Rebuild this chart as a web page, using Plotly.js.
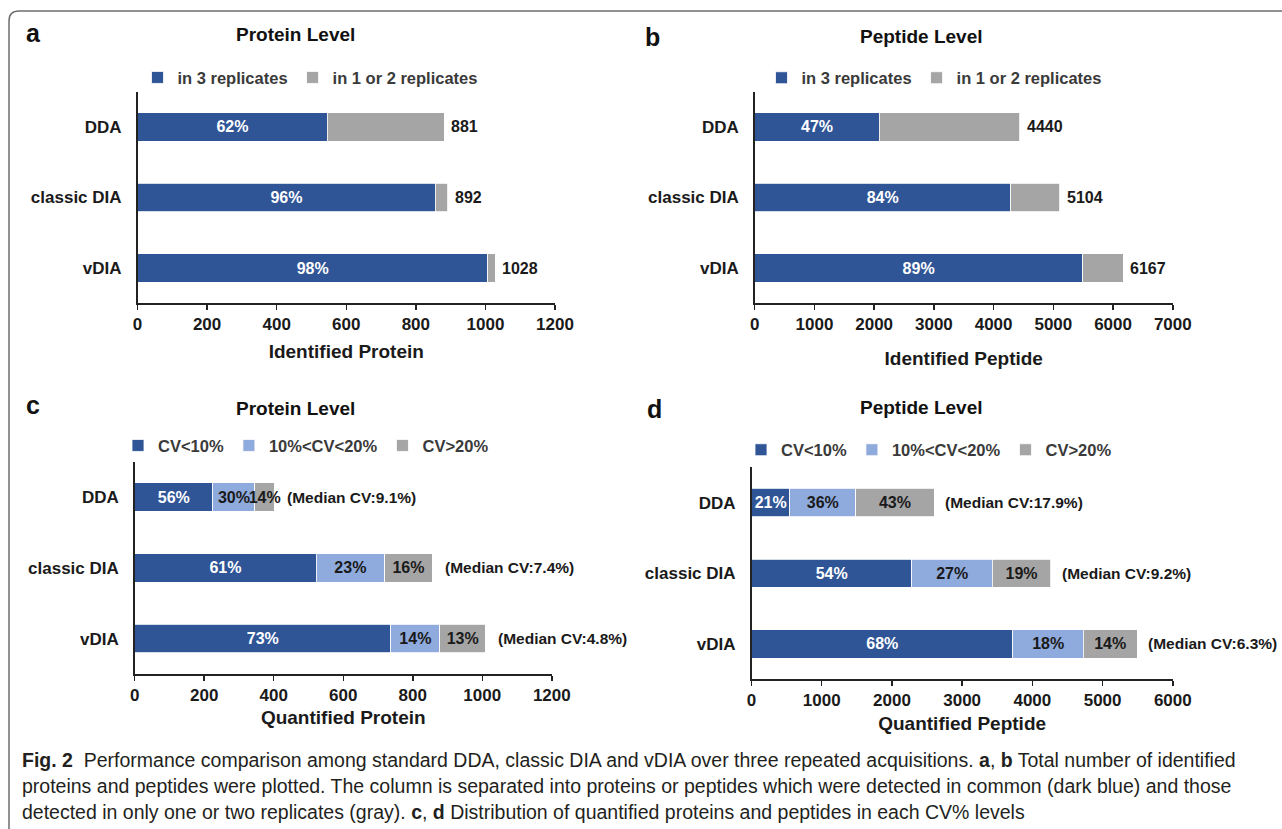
<!DOCTYPE html>
<html>
<head>
<meta charset="utf-8">
<script src="https://cdn.plot.ly/plotly-3.0.1.min.js"></script>
<style>
  html, body { margin: 0; padding: 0; background: #ffffff; }
  #chart { width: 1282px; height: 829px; }
</style>
</head>
<body>
<div id="chart"></div>
<script>
// ---------- data ----------
const methods = ['DDA', 'classic DIA', 'vDIA'];

// panel a: identified proteins
const protIdIn3 = [546, 856, 1007];
const protIdIn12 = [335, 36, 21];
const protIdPct = ['62%', '96%', '98%'];
const protIdTotalLabel = ['881', '892', '1028'];

// panel b: identified peptides
const pepIdIn3 = [2087, 4287, 5489];
const pepIdIn12 = [2353, 817, 678];
const pepIdPct = ['47%', '84%', '89%'];
const pepIdTotalLabel = ['4440', '5104', '6167'];

// panel c: quantified proteins by CV
const protCvLow = [225, 522, 737];
const protCvMid = [121, 197, 141];
const protCvHigh = [56, 137, 131];
const protCvLowPct = ['56%', '61%', '73%'];
const protCvMidPct = ['30%', '23%', '14%'];
const protCvHighPct = ['14%', '16%', '13%'];
const protMedianCV = ['(Median CV:9.1%)', '(Median CV:7.4%)', '(Median CV:4.8%)'];

// panel d: quantified peptides by CV
const pepCvLow = [547, 2285, 3724];
const pepCvMid = [937, 1147, 1003];
const pepCvHigh = [1119, 829, 764];
const pepCvLowPct = ['21%', '54%', '68%'];
const pepCvMidPct = ['36%', '27%', '18%'];
const pepCvHighPct = ['43%', '19%', '14%'];
const pepMedianCV = ['(Median CV:17.9%)', '(Median CV:9.2%)', '(Median CV:6.3%)'];

const legendRep = ['in 3 replicates', 'in 1 or 2 replicates'];
const legendCV = ['CV&lt;10%', '10%&lt;CV&lt;20%', 'CV&gt;20%'];

// ---------- style ----------
const W = 1282, H = 829;
const FONT = 'Liberation Sans, Arial, Helvetica, sans-serif';
const CAPFONT = 'Liberation Sans, Arial, sans-serif';
const C_DARK = '#2F5597';
const C_LIGHT = '#8FAADC';
const C_GRAY = '#A5A5A5';
const C_TXT = '#1a1a1a';
const px = v => v / W;
const py = v => 1 - v / H;

function bar(x, color, name, text, txtColor, xa, ya, leg) {
  return {
    type: 'bar', orientation: 'h', y: methods, x: x, name: name,
    xaxis: xa, yaxis: ya, legend: leg, showlegend: true,
    width: 0.4,
    marker: { color: color, line: { color: '#ffffff', width: 0.8 } },
    text: text, textposition: 'inside', insidetextanchor: 'middle', textangle: 0,
    constraintext: 'none', cliponaxis: false,
    textfont: { family: FONT, size: 16, color: txtColor, weight: 'bold' },
    hoverinfo: 'x+y+name'
  };
}

const traces = [
  bar(protIdIn3, C_DARK, legendRep[0], protIdPct, '#ffffff', 'x', 'y', 'legend'),
  bar(protIdIn12, C_GRAY, legendRep[1], null, C_TXT, 'x', 'y', 'legend'),
  bar(pepIdIn3, C_DARK, legendRep[0], pepIdPct, '#ffffff', 'x2', 'y2', 'legend2'),
  bar(pepIdIn12, C_GRAY, legendRep[1], null, C_TXT, 'x2', 'y2', 'legend2'),
  bar(protCvLow, C_DARK, legendCV[0], protCvLowPct, '#ffffff', 'x3', 'y3', 'legend3'),
  bar(protCvMid, C_LIGHT, legendCV[1], protCvMidPct, C_TXT, 'x3', 'y3', 'legend3'),
  bar(protCvHigh, C_GRAY, legendCV[2], protCvHighPct, C_TXT, 'x3', 'y3', 'legend3'),
  bar(pepCvLow, C_DARK, legendCV[0], pepCvLowPct, '#ffffff', 'x4', 'y4', 'legend4'),
  bar(pepCvMid, C_LIGHT, legendCV[1], pepCvMidPct, C_TXT, 'x4', 'y4', 'legend4'),
  bar(pepCvHigh, C_GRAY, legendCV[2], pepCvHighPct, C_TXT, 'x4', 'y4', 'legend4')
];

function xax(domain, range, dtick, title, standoff, anchor) {
  return {
    domain: domain, range: range, dtick: dtick, tick0: 0, anchor: anchor,
    showgrid: false, zeroline: false, fixedrange: true,
    showline: true, linecolor: '#222', linewidth: 1.5, mirror: false,
    ticks: 'outside', ticklen: 5, tickwidth: 1.5, tickcolor: '#222',
    tickfont: { family: FONT, size: 17, color: C_TXT, weight: 'bold' },
    title: { text: title, standoff: standoff, font: { family: FONT, size: 19, color: C_TXT, weight: 'bold' } },
    automargin: false
  };
}
function yax(domain, anchor) {
  return {
    domain: domain, anchor: anchor, type: 'category', autorange: 'reversed',
    showgrid: false, zeroline: false, fixedrange: true,
    showline: true, linecolor: '#222', linewidth: 1.5,
    ticks: '', ticklabelstandoff: 11,
    tickfont: { family: FONT, size: 17, color: C_TXT, weight: 'bold' },
    automargin: false
  };
}

function sumSeries(...arrs) { return arrs[0].map((_, i) => arrs.reduce((s, a) => s + a[i], 0)); }

const annotations = [];
function addEndLabels(totals, labels, xa, ya, shift, size) {
  totals.forEach((t, i) => annotations.push({
    x: t, y: methods[i], xref: xa, yref: ya, text: labels[i], showarrow: false,
    xanchor: 'left', yanchor: 'middle', xshift: shift,
    font: { family: FONT, size: size, color: C_TXT, weight: 'bold' }
  }));
}
addEndLabels(sumSeries(protIdIn3, protIdIn12), protIdTotalLabel, 'x', 'y', 5, 16);
addEndLabels(sumSeries(pepIdIn3, pepIdIn12), pepIdTotalLabel, 'x2', 'y2', 5, 16);
addEndLabels(sumSeries(protCvLow, protCvMid, protCvHigh), protMedianCV, 'x3', 'y3', 11, 15.5);
addEndLabels(sumSeries(pepCvLow, pepCvMid, pepCvHigh), pepMedianCV, 'x4', 'y4', 9, 15.5);

function paperText(x, y, text, size, opts) {
  annotations.push(Object.assign({
    x: px(x), y: py(y), xref: 'paper', yref: 'paper', text: text, showarrow: false,
    xanchor: 'center', yanchor: 'middle',
    font: { family: FONT, size: size, color: '#111', weight: 'bold' }
  }, opts || {}));
}
// panel letters
paperText(33, 33, 'a', 25);
paperText(652, 37, 'b', 25);
paperText(33, 405, 'c', 25);
paperText(654, 409, 'd', 25);
// panel titles
paperText(295, 35, 'Protein Level', 19);
paperText(921, 37, 'Peptide Level', 19);
paperText(295, 408, 'Protein Level', 19);
paperText(921, 407, 'Peptide Level', 19);

// caption
const capLines = [
  '<b>Fig. 2</b>  Performance comparison among standard DDA, classic DIA and vDIA over three repeated acquisitions. <b>a</b>, <b>b</b> Total number of identified',
  'proteins and peptides were plotted. The column is separated into proteins or peptides which were detected in common (dark blue) and those',
  'detected in only one or two replicates (gray). <b>c</b>, <b>d</b> Distribution of quantified proteins and peptides in each CV% levels'
];
const capY = [760, 786, 812];
capLines.forEach((t, i) => paperText(20, capY[i], t, 19.5, {
  xanchor: 'left', align: 'left',
  font: { family: CAPFONT, size: 19.5, color: '#231f20', weight: 'normal' }
}));

function legendAt(x, y) {
  return {
    orientation: 'h', x: px(x), y: py(y), xanchor: 'center', yanchor: 'middle',
    xref: 'paper', yref: 'paper',
    bgcolor: 'rgba(0,0,0,0)', borderwidth: 0, traceorder: 'normal',
    itemwidth: 30, itemclick: false, itemdoubleclick: false,
    font: { family: FONT, size: 16.5, color: '#3a3a3a', weight: 'bold' }
  };
}

// rounded frame
const fx = px(9), fy = py(11), rx = 10 / W, ry = 10 / H;
const framePath = `M ${fx},-0.02 L ${fx},${fy - ry} Q ${fx},${fy} ${fx + rx},${fy} L 1.02,${fy}`;

const layout = {
  width: W, height: H,
  margin: { l: 0, r: 0, t: 0, b: 0, pad: 0 },
  paper_bgcolor: '#ffffff', plot_bgcolor: 'rgba(0,0,0,0)',
  barmode: 'stack',
  uniformtext: { mode: 'show', minsize: 16 },
  font: { family: FONT, color: C_TXT },
  xaxis: xax([px(137.5), px(555)], [0, 1200], 200, 'Identified Protein', 11, 'y'),
  yaxis: yax([py(303.3), py(91.7)], 'x'),
  xaxis2: xax([px(754.7), px(1172.8)], [0, 7000], 1000, 'Identified Peptide', 18, 'y2'),
  yaxis2: yax([py(303.3), py(91.7)], 'x2'),
  xaxis3: xax([px(134.7), px(551.8)], [0, 1200], 200, 'Quantified Protein', 7, 'y3'),
  yaxis3: yax([py(674), py(461.7)], 'x3'),
  xaxis4: xax([px(751.5), px(1172.8)], [0, 6000], 1000, 'Quantified Peptide', 7, 'y4'),
  yaxis4: yax([py(679.3), py(467.3)], 'x4'),
  legend: legendAt(310, 77.7),
  legend2: legendAt(934, 78),
  legend3: legendAt(306, 445.7),
  legend4: legendAt(929, 450),
  annotations: annotations,
  shapes: [{
    type: 'path', xref: 'paper', yref: 'paper', path: framePath,
    line: { color: '#6e6e6e', width: 1.5 }, layer: 'above'
  }]
};

Plotly.newPlot('chart', traces, layout, { displayModeBar: false, staticPlot: true });
</script>
</body>
</html>
